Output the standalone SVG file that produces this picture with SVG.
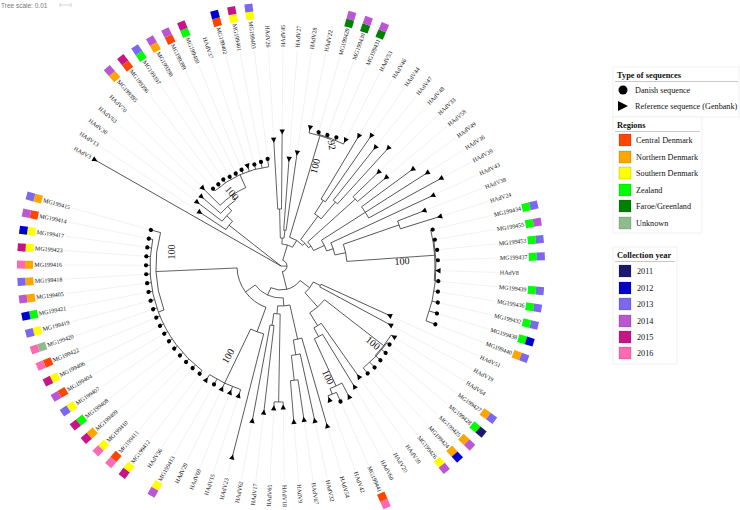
<svg xmlns="http://www.w3.org/2000/svg" width="740" height="510" viewBox="0 0 740 510">
<style>
.br{fill:none;stroke:#333;stroke-width:0.75}
.gd{fill:none;stroke:#e6e6e6;stroke-width:0.5}
.lb{font-family:"Liberation Serif",serif;font-size:6px;fill:#111;dominant-baseline:central}
.f{text-anchor:end}
.bs{font-family:"Liberation Serif",serif;font-size:10px;fill:#111;text-anchor:middle;dominant-baseline:central}
.lg{font-family:"Liberation Serif",serif;font-size:8.2px;fill:#111;dominant-baseline:central}
.lh{font-family:"Liberation Serif",serif;font-size:8.4px;font-weight:bold;fill:#111;dominant-baseline:central}
.rC{fill:#ff4500}.rN{fill:#ffa500}.rS{fill:#ffff00}.rZ{fill:#00ff00}.rF{fill:#008000}.rU{fill:#8fbc8f}
.y1{fill:#191970}.y2{fill:#0000cd}.y3{fill:#7b68ee}.y4{fill:#ba55d3}.y5{fill:#c71585}.y6{fill:#ff69b4}
.lgbox{fill:#fff;stroke:#eeeeee;stroke-width:0.8}
.sq{stroke:#000;stroke-opacity:0.25;stroke-width:0.6}
</style>
<defs>
<circle id="d" r="2.1" fill="#000"/>
<polygon id="t" points="-2.6,0 2.6,-2.7 2.6,2.7" fill="#000"/>
<rect id="b" x="0" y="-4" width="8" height="8"/>
</defs>
<rect width="740" height="510" fill="#fff"/>
<text x="1" y="5" style="font-family:'Liberation Sans',sans-serif;font-size:6.5px;fill:#777;dominant-baseline:central">Tree scale: 0.01</text>
<path d="M60 5H71M60 3V7M71 3V7" stroke="#bbb" stroke-width="0.6" fill="none"/>

<g id="connectors" class="br" transform="translate(281 266)">
<path d="M0 0H214" transform="rotate(-150.3)"/>
<path d="M0 0H66" transform="rotate(-141.87)"/>
<path d="M0 0H6" transform="rotate(1.5)"/>
<circle r="66" stroke-dasharray="10.67 2000" transform="rotate(-146.5)"/>
<path d="M66 0H97" transform="rotate(-146.5)"/>
<path d="M66 0H74" transform="rotate(-137.24)"/>
<circle r="74" stroke-dasharray="14.10 2000" transform="rotate(-142.7)"/>
<path d="M74 0H105" transform="rotate(-142.7)"/>
<path d="M74 0H80" transform="rotate(-131.78)"/>
<circle r="80" stroke-dasharray="19.90 2000" transform="rotate(-138.9)"/>
<path d="M80 0H105" transform="rotate(-138.9)"/>
<path d="M80 0H86" transform="rotate(-124.65)"/>
<circle r="86" stroke-dasharray="31.37 2000" transform="rotate(-135.1)"/>
<path d="M86 0H110" transform="rotate(-135.1)"/>
<path d="M86 0H100" transform="rotate(-114.2)"/>
<circle r="100" stroke-dasharray="59.69 2000" transform="rotate(-131.3)"/>
<path d="M100 0H103" transform="rotate(-131.3)"/>
<path d="M100 0H103" transform="rotate(-127.5)"/>
<path d="M100 0H104" transform="rotate(-123.7)"/>
<path d="M100 0H103" transform="rotate(-119.9)"/>
<path d="M100 0H103" transform="rotate(-116.1)"/>
<path d="M100 0H104" transform="rotate(-112.3)"/>
<path d="M100 0H105" transform="rotate(-108.5)"/>
<path d="M100 0H105" transform="rotate(-104.7)"/>
<path d="M100 0H106" transform="rotate(-100.9)"/>
<path d="M100 0H108" transform="rotate(-97.1)"/>
<circle r="6" stroke-dasharray="15.61 2000" transform="rotate(-73)"/>
<path d="M6 0H22" transform="rotate(-73)"/>
<path d="M6 0H24" transform="rotate(76.05)"/>
<circle r="22" stroke-dasharray="11.19 2000" transform="rotate(-87.6)"/>
<path d="M22 0H28" transform="rotate(-87.6)"/>
<path d="M22 0H30" transform="rotate(-58.45)"/>
<circle r="28" stroke-dasharray="3.71 2000" transform="rotate(-91.4)"/>
<path d="M28 0H57" transform="rotate(-91.4)"/>
<path d="M28 0H36" transform="rotate(-83.8)"/>
<circle r="57" stroke-dasharray="3.78 2000" transform="rotate(-93.3)"/>
<path d="M57 0H126" transform="rotate(-93.3)"/>
<path d="M57 0H134" transform="rotate(-89.5)"/>
<circle r="36" stroke-dasharray="2.39 2000" transform="rotate(-85.7)"/>
<path d="M36 0H107" transform="rotate(-85.7)"/>
<path d="M36 0H114" transform="rotate(-81.9)"/>
<circle r="30" stroke-dasharray="15.60 2000" transform="rotate(-73.35)"/>
<path d="M30 0H136" transform="rotate(-73.35)"/>
<path d="M30 0H33" transform="rotate(-43.55)"/>
<circle r="136" stroke-dasharray="22.55 2000" transform="rotate(-78.1)"/>
<path d="M136 0H141" transform="rotate(-78.1)"/>
<path d="M136 0H137" transform="rotate(-68.6)"/>
<circle r="137" stroke-dasharray="27.26 2000" transform="rotate(-74.3)"/>
<path d="M137 0H139" transform="rotate(-74.3)"/>
<path d="M137 0H139" transform="rotate(-70.5)"/>
<path d="M137 0H140" transform="rotate(-66.7)"/>
<path d="M137 0H141" transform="rotate(-62.9)"/>
<circle r="33" stroke-dasharray="11.35 2000" transform="rotate(-53.4)"/>
<path d="M33 0H62" transform="rotate(-53.4)"/>
<path d="M33 0H36" transform="rotate(-33.7)"/>
<circle r="62" stroke-dasharray="8.22 2000" transform="rotate(-57.2)"/>
<path d="M62 0H78" transform="rotate(-57.2)"/>
<path d="M62 0H84" transform="rotate(-49.6)"/>
<circle r="78" stroke-dasharray="5.17 2000" transform="rotate(-59.1)"/>
<path d="M78 0H151" transform="rotate(-59.1)"/>
<path d="M78 0H158" transform="rotate(-55.3)"/>
<circle r="84" stroke-dasharray="5.57 2000" transform="rotate(-51.5)"/>
<path d="M84 0H151" transform="rotate(-51.5)"/>
<path d="M84 0H159" transform="rotate(-47.7)"/>
<circle r="36" stroke-dasharray="10.43 2000" transform="rotate(-42)"/>
<path d="M36 0H100" transform="rotate(-42)"/>
<path d="M36 0H48" transform="rotate(-25.4)"/>
<circle r="100" stroke-dasharray="6.63 2000" transform="rotate(-43.9)"/>
<path d="M100 0H135" transform="rotate(-43.9)"/>
<path d="M100 0H137" transform="rotate(-40.1)"/>
<circle r="48" stroke-dasharray="11.94 2000" transform="rotate(-32.5)"/>
<path d="M48 0H100" transform="rotate(-32.5)"/>
<path d="M48 0H55" transform="rotate(-18.25)"/>
<circle r="100" stroke-dasharray="13.26 2000" transform="rotate(-36.3)"/>
<path d="M100 0H163" transform="rotate(-36.3)"/>
<path d="M100 0H173" transform="rotate(-32.5)"/>
<path d="M100 0H182" transform="rotate(-28.7)"/>
<circle r="55" stroke-dasharray="12.77 2000" transform="rotate(-24.9)"/>
<path d="M55 0H167" transform="rotate(-24.9)"/>
<path d="M55 0H66" transform="rotate(-11.6)"/>
<circle r="66" stroke-dasharray="17.51 2000" transform="rotate(-19.2)"/>
<path d="M66 0H125" transform="rotate(-19.2)"/>
<path d="M66 0H154" transform="rotate(-4)"/>
<circle r="125" stroke-dasharray="8.29 2000" transform="rotate(-21.1)"/>
<path d="M125 0H153" transform="rotate(-21.1)"/>
<path d="M125 0H166" transform="rotate(-17.3)"/>
<circle r="154" stroke-dasharray="51.07 2000" transform="rotate(-13.5)"/>
<path d="M154 0H156" transform="rotate(-13.5)"/>
<path d="M154 0H155" transform="rotate(5.5)"/>
<circle r="155" stroke-dasharray="82.24 2000" transform="rotate(-9.7)"/>
<path d="M155 0H156" transform="rotate(-9.7)"/>
<path d="M155 0H157" transform="rotate(-5.9)"/>
<path d="M155 0H157" transform="rotate(-2.1)"/>
<path d="M155 0H157" transform="rotate(1.7)"/>
<path d="M155 0H158" transform="rotate(5.5)"/>
<path d="M155 0H159" transform="rotate(9.3)"/>
<path d="M155 0H161" transform="rotate(13.1)"/>
<path d="M155 0H163" transform="rotate(16.9)"/>
<path d="M155 0H165" transform="rotate(20.7)"/>
<circle r="24" stroke-dasharray="32.50 2000" transform="rotate(37.25)"/>
<path d="M24 0H36" transform="rotate(37.25)"/>
<path d="M24 0H32" transform="rotate(114.85)"/>
<circle r="36" stroke-dasharray="13.63 2000" transform="rotate(26.4)"/>
<path d="M36 0H44" transform="rotate(26.4)"/>
<path d="M36 0H55" transform="rotate(48.1)"/>
<circle r="44" stroke-dasharray="2.92 2000" transform="rotate(24.5)"/>
<path d="M44 0H119" transform="rotate(24.5)"/>
<path d="M44 0H124" transform="rotate(28.3)"/>
<circle r="55" stroke-dasharray="19.82 2000" transform="rotate(37.8)"/>
<path d="M55 0H130" transform="rotate(37.8)"/>
<path d="M55 0H70" transform="rotate(58.45)"/>
<circle r="130" stroke-dasharray="25.87 2000" transform="rotate(32.1)"/>
<path d="M130 0H133" transform="rotate(32.1)"/>
<path d="M130 0H131" transform="rotate(43.5)"/>
<circle r="131" stroke-dasharray="34.75 2000" transform="rotate(35.9)"/>
<path d="M131 0H134" transform="rotate(35.9)"/>
<path d="M131 0H136" transform="rotate(39.7)"/>
<path d="M131 0H137" transform="rotate(43.5)"/>
<path d="M131 0H138" transform="rotate(47.3)"/>
<path d="M131 0H138" transform="rotate(51.1)"/>
<circle r="70" stroke-dasharray="8.67 2000" transform="rotate(54.9)"/>
<path d="M70 0H135" transform="rotate(54.9)"/>
<path d="M70 0H80" transform="rotate(62)"/>
<circle r="80" stroke-dasharray="9.29 2000" transform="rotate(58.7)"/>
<path d="M80 0H141" transform="rotate(58.7)"/>
<path d="M80 0H132" transform="rotate(65.35)"/>
<circle r="132" stroke-dasharray="13.13 2000" transform="rotate(62.5)"/>
<path d="M132 0H147" transform="rotate(62.5)"/>
<path d="M132 0H138" transform="rotate(68.2)"/>
<circle r="138" stroke-dasharray="9.15 2000" transform="rotate(66.3)"/>
<path d="M138 0H148" transform="rotate(66.3)"/>
<path d="M138 0H142" transform="rotate(70.1)"/>
<circle r="32" stroke-dasharray="32.23 2000" transform="rotate(86)"/>
<path d="M32 0H40" transform="rotate(86)"/>
<path d="M32 0H44" transform="rotate(143.7)"/>
<circle r="40" stroke-dasharray="12.29 2000" transform="rotate(77.2)"/>
<path d="M40 0H75" transform="rotate(77.2)"/>
<path d="M40 0H48" transform="rotate(94.8)"/>
<circle r="75" stroke-dasharray="8.70 2000" transform="rotate(73.9)"/>
<path d="M75 0H166" transform="rotate(73.9)"/>
<path d="M75 0H90" transform="rotate(80.55)"/>
<circle r="90" stroke-dasharray="8.95 2000" transform="rotate(77.7)"/>
<path d="M90 0H158" transform="rotate(77.7)"/>
<path d="M90 0H115" transform="rotate(83.4)"/>
<circle r="115" stroke-dasharray="7.63 2000" transform="rotate(81.5)"/>
<path d="M115 0H155" transform="rotate(81.5)"/>
<path d="M115 0H156" transform="rotate(85.3)"/>
<circle r="48" stroke-dasharray="6.37 2000" transform="rotate(91)"/>
<path d="M48 0H136" transform="rotate(91)"/>
<path d="M48 0H60" transform="rotate(98.6)"/>
<circle r="136" stroke-dasharray="9.02 2000" transform="rotate(89.1)"/>
<path d="M136 0H141" transform="rotate(89.1)"/>
<path d="M136 0H142" transform="rotate(92.9)"/>
<circle r="60" stroke-dasharray="3.98 2000" transform="rotate(96.7)"/>
<path d="M60 0H147" transform="rotate(96.7)"/>
<path d="M60 0H157" transform="rotate(100.5)"/>
<circle r="44" stroke-dasharray="51.80 2000" transform="rotate(110)"/>
<path d="M44 0H70" transform="rotate(110)"/>
<path d="M44 0H125" transform="rotate(177.45)"/>
<circle r="70" stroke-dasharray="13.93 2000" transform="rotate(104.3)"/>
<path d="M70 0H197" transform="rotate(104.3)"/>
<path d="M70 0H130" transform="rotate(115.7)"/>
<circle r="130" stroke-dasharray="34.49 2000" transform="rotate(108.1)"/>
<path d="M130 0H136" transform="rotate(108.1)"/>
<path d="M130 0H136" transform="rotate(111.9)"/>
<path d="M130 0H136" transform="rotate(115.7)"/>
<path d="M130 0H136" transform="rotate(119.5)"/>
<path d="M130 0H136" transform="rotate(123.3)"/>
<circle r="125" stroke-dasharray="78.76 2000" transform="rotate(159.4)"/>
<path d="M125 0H131" transform="rotate(159.4)"/>
<path d="M125 0H135" transform="rotate(195.5)"/>
<circle r="131" stroke-dasharray="147.70 2000" transform="rotate(127.1)"/>
<path d="M131 0H135" transform="rotate(127.1)"/><path d="M131 0H135" transform="rotate(130.9)"/><path d="M131 0H135" transform="rotate(134.7)"/><path d="M131 0H135" transform="rotate(138.5)"/><path d="M131 0H135" transform="rotate(142.3)"/><path d="M131 0H135" transform="rotate(146.1)"/><path d="M131 0H135" transform="rotate(149.9)"/><path d="M131 0H135" transform="rotate(153.7)"/><path d="M131 0H135" transform="rotate(157.5)"/><path d="M131 0H135" transform="rotate(161.3)"/><path d="M131 0H135" transform="rotate(165.1)"/><path d="M131 0H135" transform="rotate(168.9)"/><path d="M131 0H135" transform="rotate(172.7)"/><path d="M131 0H135" transform="rotate(176.5)"/><path d="M131 0H135" transform="rotate(180.3)"/><path d="M131 0H135" transform="rotate(184.1)"/><path d="M131 0H135" transform="rotate(187.9)"/><path d="M131 0H135" transform="rotate(191.7)"/>
</g>

<g id="bootstrap">
<text class="bs" transform="translate(232 193) rotate(50)">100</text>
<text class="bs" transform="translate(332 145) rotate(80)">92</text>
<text class="bs" transform="translate(315 166) rotate(-75)">100</text>
<text class="bs" transform="translate(402 261) rotate(-4)">100</text>
<text class="bs" transform="translate(373 343) rotate(40)">100</text>
<text class="bs" transform="translate(328 377) rotate(65)">100</text>
<text class="bs" transform="translate(228 356) rotate(-60)">100</text>
<text class="bs" transform="translate(171 252) rotate(-90)">100</text>
</g>

<g id="leaves" transform="translate(281 266)">
<g id="HAdV3" transform="rotate(-150.3)"><use href="#t" x="214"/><text class="lb f" x="-219" transform="rotate(180)">HAdV3</text></g>
<g id="HAdV13" transform="rotate(-146.5)"><path class="gd" d="M100 0H217"/><use href="#t" x="97"/><text class="lb f" x="-219" transform="rotate(180)">HAdV13</text></g>
<g id="HAdV30" transform="rotate(-142.7)"><path class="gd" d="M108 0H217"/><use href="#t" x="105"/><text class="lb f" x="-219" transform="rotate(180)">HAdV30</text></g>
<g id="HAdV63" transform="rotate(-138.9)"><path class="gd" d="M108 0H217"/><use href="#t" x="105"/><text class="lb f" x="-219" transform="rotate(180)">HAdV63</text></g>
<g id="HAdV70" transform="rotate(-135.1)"><path class="gd" d="M113 0H217"/><use href="#t" x="110"/><text class="lb f" x="-219" transform="rotate(180)">HAdV70</text></g>
<g id="MG199395" transform="rotate(-131.3)"><path class="gd" d="M106 0H217"/><use href="#d" x="103"/><text class="lb f" x="-219" transform="rotate(180)">MG199395</text><use href="#b" x="248" class="rN"/><use href="#b" x="256" class="y4"/></g>
<g id="MG199396" transform="rotate(-127.5)"><path class="gd" d="M106 0H217"/><use href="#d" x="103"/><text class="lb f" x="-219" transform="rotate(180)">MG199396</text><use href="#b" x="248" class="rC"/><use href="#b" x="256" class="y5"/></g>
<g id="MG199397" transform="rotate(-123.7)"><path class="gd" d="M107 0H217"/><use href="#d" x="104"/><text class="lb f" x="-219" transform="rotate(180)">MG199397</text><use href="#b" x="248" class="rZ"/><use href="#b" x="256" class="y3"/></g>
<g id="MG199398" transform="rotate(-119.9)"><path class="gd" d="M106 0H217"/><use href="#d" x="103"/><text class="lb f" x="-219" transform="rotate(180)">MG199398</text><use href="#b" x="248" class="rN"/><use href="#b" x="256" class="y4"/></g>
<g id="MG199399" transform="rotate(-116.1)"><path class="gd" d="M106 0H217"/><use href="#d" x="103"/><text class="lb f" x="-219" transform="rotate(180)">MG199399</text><use href="#b" x="248" class="rC"/><use href="#b" x="256" class="y4"/></g>
<g id="MG199400" transform="rotate(-112.3)"><path class="gd" d="M107 0H217"/><use href="#d" x="104"/><text class="lb f" x="-219" transform="rotate(180)">MG199400</text><use href="#b" x="248" class="rZ"/><use href="#b" x="256" class="y5"/></g>
<g id="HAdV37" transform="rotate(-108.5)"><path class="gd" d="M108 0H217"/><use href="#t" x="105"/><text class="lb f" x="-219" transform="rotate(180)">HAdV37</text></g>
<g id="MG199402" transform="rotate(-104.7)"><path class="gd" d="M108 0H217"/><use href="#d" x="105"/><text class="lb f" x="-219" transform="rotate(180)">MG199402</text><use href="#b" x="248" class="rC"/><use href="#b" x="256" class="y2"/></g>
<g id="MG199401" transform="rotate(-100.9)"><path class="gd" d="M109 0H217"/><use href="#d" x="106"/><text class="lb f" x="-219" transform="rotate(180)">MG199401</text><use href="#b" x="248" class="rS"/><use href="#b" x="256" class="y5"/></g>
<g id="MG199403" transform="rotate(-97.1)"><path class="gd" d="M111 0H217"/><use href="#d" x="108"/><text class="lb f" x="-219" transform="rotate(180)">MG199403</text><use href="#b" x="248" class="rS"/><use href="#b" x="256" class="y3"/></g>
<g id="HAdV26" transform="rotate(-93.3)"><path class="gd" d="M129 0H217"/><use href="#t" x="126"/><text class="lb f" x="-219" transform="rotate(180)">HAdV26</text></g>
<g id="HAdV45" transform="rotate(-89.5)"><path class="gd" d="M137 0H217"/><use href="#t" x="134"/><text class="lb" x="219">HAdV45</text></g>
<g id="HAdV27" transform="rotate(-85.7)"><path class="gd" d="M110 0H217"/><use href="#t" x="107"/><text class="lb" x="219">HAdV27</text></g>
<g id="HAdV28" transform="rotate(-81.9)"><path class="gd" d="M117 0H217"/><use href="#t" x="114"/><text class="lb" x="219">HAdV28</text></g>
<g id="HAdV22" transform="rotate(-78.1)"><path class="gd" d="M144 0H217"/><use href="#t" x="141"/><text class="lb" x="219">HAdV22</text></g>
<g id="MG199429" transform="rotate(-74.3)"><path class="gd" d="M142 0H217"/><use href="#d" x="139"/><text class="lb" x="219">MG199429</text><use href="#b" x="248" class="rF"/><use href="#b" x="256" class="y4"/></g>
<g id="MG199430" transform="rotate(-70.5)"><path class="gd" d="M142 0H217"/><use href="#d" x="139"/><text class="lb" x="219">MG199430</text><use href="#b" x="248" class="rF"/><use href="#b" x="256" class="y4"/></g>
<g id="MG199431" transform="rotate(-66.7)"><path class="gd" d="M143 0H217"/><use href="#d" x="140"/><text class="lb" x="219">MG199431</text><use href="#b" x="248" class="rF"/><use href="#b" x="256" class="y4"/></g>
<g id="HAdV53" transform="rotate(-62.9)"><path class="gd" d="M144 0H217"/><use href="#t" x="141"/><text class="lb" x="219">HAdV53</text></g>
<g id="HAdV46" transform="rotate(-59.1)"><path class="gd" d="M154 0H217"/><use href="#t" x="151"/><text class="lb" x="219">HAdV46</text></g>
<g id="HAdV44" transform="rotate(-55.3)"><path class="gd" d="M161 0H217"/><use href="#t" x="158"/><text class="lb" x="219">HAdV44</text></g>
<g id="HAdV47" transform="rotate(-51.5)"><path class="gd" d="M154 0H217"/><use href="#t" x="151"/><text class="lb" x="219">HAdV47</text></g>
<g id="HAdV48" transform="rotate(-47.7)"><path class="gd" d="M162 0H217"/><use href="#t" x="159"/><text class="lb" x="219">HAdV48</text></g>
<g id="HAdV33" transform="rotate(-43.9)"><path class="gd" d="M138 0H217"/><use href="#t" x="135"/><text class="lb" x="219">HAdV33</text></g>
<g id="HAdV58" transform="rotate(-40.1)"><path class="gd" d="M140 0H217"/><use href="#t" x="137"/><text class="lb" x="219">HAdV58</text></g>
<g id="HAdV49" transform="rotate(-36.3)"><path class="gd" d="M166 0H217"/><use href="#t" x="163"/><text class="lb" x="219">HAdV49</text></g>
<g id="HAdV36" transform="rotate(-32.5)"><path class="gd" d="M176 0H217"/><use href="#t" x="173"/><text class="lb" x="219">HAdV36</text></g>
<g id="HAdV39" transform="rotate(-28.7)"><path class="gd" d="M185 0H217"/><use href="#t" x="182"/><text class="lb" x="219">HAdV39</text></g>
<g id="HAdV43" transform="rotate(-24.9)"><path class="gd" d="M170 0H217"/><use href="#t" x="167"/><text class="lb" x="219">HAdV43</text></g>
<g id="HAdV38" transform="rotate(-21.1)"><path class="gd" d="M156 0H217"/><use href="#t" x="153"/><text class="lb" x="219">HAdV38</text></g>
<g id="HAdV24" transform="rotate(-17.3)"><path class="gd" d="M169 0H217"/><use href="#t" x="166"/><text class="lb" x="219">HAdV24</text></g>
<g id="MG199434" transform="rotate(-13.5)"><path class="gd" d="M159 0H217"/><use href="#d" x="156"/><text class="lb" x="219">MG199434</text><use href="#b" x="248" class="rZ"/><use href="#b" x="256" class="y3"/></g>
<g id="MG199455" transform="rotate(-9.7)"><path class="gd" d="M159 0H217"/><use href="#d" x="156"/><text class="lb" x="219">MG199455</text><use href="#b" x="248" class="rZ"/><use href="#b" x="256" class="y4"/></g>
<g id="MG199453" transform="rotate(-5.9)"><path class="gd" d="M160 0H217"/><use href="#d" x="157"/><text class="lb" x="219">MG199453</text><use href="#b" x="248" class="rZ"/><use href="#b" x="256" class="y3"/></g>
<g id="MG199437" transform="rotate(-2.1)"><path class="gd" d="M160 0H217"/><use href="#d" x="157"/><text class="lb" x="219">MG199437</text><use href="#b" x="248" class="rZ"/><use href="#b" x="256" class="y3"/></g>
<g id="HAdV8" transform="rotate(1.7)"><path class="gd" d="M160 0H217"/><use href="#t" x="157"/><text class="lb" x="219">HAdV8</text></g>
<g id="MG199439" transform="rotate(5.5)"><path class="gd" d="M161 0H217"/><use href="#d" x="158"/><text class="lb" x="219">MG199439</text><use href="#b" x="248" class="rZ"/><use href="#b" x="256" class="y3"/></g>
<g id="MG199436" transform="rotate(9.3)"><path class="gd" d="M162 0H217"/><use href="#d" x="159"/><text class="lb" x="219">MG199436</text><use href="#b" x="248" class="rZ"/><use href="#b" x="256" class="y3"/></g>
<g id="MG199432" transform="rotate(13.1)"><path class="gd" d="M164 0H217"/><use href="#d" x="161"/><text class="lb" x="219">MG199432</text><use href="#b" x="248" class="rZ"/><use href="#b" x="256" class="y3"/></g>
<g id="MG199438" transform="rotate(16.9)"><path class="gd" d="M166 0H217"/><use href="#d" x="163"/><text class="lb" x="219">MG199438</text><use href="#b" x="248" class="rZ"/><use href="#b" x="256" class="y2"/></g>
<g id="MG199440" transform="rotate(20.7)"><path class="gd" d="M168 0H217"/><use href="#d" x="165"/><text class="lb" x="219">MG199440</text><use href="#b" x="248" class="rN"/><use href="#b" x="256" class="y3"/></g>
<g id="HAdV51" transform="rotate(24.5)"><path class="gd" d="M122 0H217"/><use href="#t" x="119"/><text class="lb" x="219">HAdV51</text></g>
<g id="HAdV19" transform="rotate(28.3)"><path class="gd" d="M127 0H217"/><use href="#t" x="124"/><text class="lb" x="219">HAdV19</text></g>
<g id="HAdV64" transform="rotate(32.1)"><path class="gd" d="M136 0H217"/><use href="#t" x="133"/><text class="lb" x="219">HAdV64</text></g>
<g id="MG199427" transform="rotate(35.9)"><path class="gd" d="M137 0H217"/><use href="#d" x="134"/><text class="lb" x="219">MG199427</text><use href="#b" x="248" class="rN"/><use href="#b" x="256" class="y3"/></g>
<g id="MG199428" transform="rotate(39.7)"><path class="gd" d="M139 0H217"/><use href="#d" x="136"/><text class="lb" x="219">MG199428</text><use href="#b" x="248" class="rZ"/><use href="#b" x="256" class="y1"/></g>
<g id="MG199425" transform="rotate(43.5)"><path class="gd" d="M140 0H217"/><use href="#d" x="137"/><text class="lb" x="219">MG199425</text><use href="#b" x="248" class="rN"/><use href="#b" x="256" class="y4"/></g>
<g id="MG199424" transform="rotate(47.3)"><path class="gd" d="M141 0H217"/><use href="#d" x="138"/><text class="lb" x="219">MG199424</text><use href="#b" x="248" class="rN"/><use href="#b" x="256" class="y2"/></g>
<g id="MG199426" transform="rotate(51.1)"><path class="gd" d="M141 0H217"/><use href="#d" x="138"/><text class="lb" x="219">MG199426</text><use href="#b" x="248" class="rS"/><use href="#b" x="256" class="y4"/></g>
<g id="HAdV59" transform="rotate(54.9)"><path class="gd" d="M138 0H217"/><use href="#t" x="135"/><text class="lb" x="219">HAdV59</text></g>
<g id="HAdV20" transform="rotate(58.7)"><path class="gd" d="M144 0H217"/><use href="#t" x="141"/><text class="lb" x="219">HAdV20</text></g>
<g id="HAdV60" transform="rotate(62.5)"><path class="gd" d="M150 0H217"/><use href="#t" x="147"/><text class="lb" x="219">HAdV60</text></g>
<g id="MG199441" transform="rotate(66.3)"><path class="gd" d="M151 0H217"/><use href="#d" x="148"/><text class="lb" x="219">MG199441</text><use href="#b" x="248" class="rC"/><use href="#b" x="256" class="y6"/></g>
<g id="HAdV42" transform="rotate(70.1)"><path class="gd" d="M145 0H217"/><use href="#t" x="142"/><text class="lb" x="219">HAdV42</text></g>
<g id="HAdV54" transform="rotate(73.9)"><path class="gd" d="M169 0H217"/><use href="#t" x="166"/><text class="lb" x="219">HAdV54</text></g>
<g id="HAdV32" transform="rotate(77.7)"><path class="gd" d="M161 0H217"/><use href="#t" x="158"/><text class="lb" x="219">HAdV32</text></g>
<g id="HAdV67" transform="rotate(81.5)"><path class="gd" d="M158 0H217"/><use href="#t" x="155"/><text class="lb" x="219">HAdV67</text></g>
<g id="HAdV9" transform="rotate(85.3)"><path class="gd" d="M159 0H217"/><use href="#t" x="156"/><text class="lb" x="219">HAdV9</text></g>
<g id="HAdV18" transform="rotate(89.1)"><path class="gd" d="M144 0H217"/><use href="#t" x="141"/><text class="lb" x="219">HAdV18</text></g>
<g id="HAdV65" transform="rotate(92.9)"><path class="gd" d="M145 0H217"/><use href="#t" x="142"/><text class="lb f" x="-219" transform="rotate(180)">HAdV65</text></g>
<g id="HAdV17" transform="rotate(96.7)"><path class="gd" d="M150 0H217"/><use href="#t" x="147"/><text class="lb f" x="-219" transform="rotate(180)">HAdV17</text></g>
<g id="HAdV62" transform="rotate(100.5)"><path class="gd" d="M160 0H217"/><use href="#t" x="157"/><text class="lb f" x="-219" transform="rotate(180)">HAdV62</text></g>
<g id="HAdV23" transform="rotate(104.3)"><path class="gd" d="M200 0H217"/><use href="#t" x="197"/><text class="lb f" x="-219" transform="rotate(180)">HAdV23</text></g>
<g id="HAdV15" transform="rotate(108.1)"><path class="gd" d="M139 0H217"/><use href="#t" x="136"/><text class="lb f" x="-219" transform="rotate(180)">HAdV15</text></g>
<g id="HAdV69" transform="rotate(111.9)"><path class="gd" d="M139 0H217"/><use href="#t" x="136"/><text class="lb f" x="-219" transform="rotate(180)">HAdV69</text></g>
<g id="HAdV29" transform="rotate(115.7)"><path class="gd" d="M139 0H217"/><use href="#t" x="136"/><text class="lb f" x="-219" transform="rotate(180)">HAdV29</text></g>
<g id="MG199413" transform="rotate(119.5)"><path class="gd" d="M139 0H217"/><use href="#d" x="136"/><text class="lb f" x="-219" transform="rotate(180)">MG199413</text><use href="#b" x="248" class="rS"/><use href="#b" x="256" class="y4"/></g>
<g id="HAdV56" transform="rotate(123.3)"><path class="gd" d="M139 0H217"/><use href="#t" x="136"/><text class="lb f" x="-219" transform="rotate(180)">HAdV56</text></g>
<g id="MG199412" transform="rotate(127.1)"><path class="gd" d="M138 0H217"/><use href="#d" x="135"/><text class="lb f" x="-219" transform="rotate(180)">MG199412</text><use href="#b" x="248" class="rS"/><use href="#b" x="256" class="y5"/></g>
<g id="MG199411" transform="rotate(130.9)"><path class="gd" d="M138 0H217"/><use href="#d" x="135"/><text class="lb f" x="-219" transform="rotate(180)">MG199411</text><use href="#b" x="248" class="rC"/><use href="#b" x="256" class="y6"/></g>
<g id="MG199410" transform="rotate(134.7)"><path class="gd" d="M138 0H217"/><use href="#d" x="135"/><text class="lb f" x="-219" transform="rotate(180)">MG199410</text><use href="#b" x="248" class="rS"/><use href="#b" x="256" class="y6"/></g>
<g id="MG199409" transform="rotate(138.5)"><path class="gd" d="M138 0H217"/><use href="#d" x="135"/><text class="lb f" x="-219" transform="rotate(180)">MG199409</text><use href="#b" x="248" class="rN"/><use href="#b" x="256" class="y5"/></g>
<g id="MG199408" transform="rotate(142.3)"><path class="gd" d="M138 0H217"/><use href="#d" x="135"/><text class="lb f" x="-219" transform="rotate(180)">MG199408</text><use href="#b" x="248" class="rZ"/><use href="#b" x="256" class="y5"/></g>
<g id="MG199407" transform="rotate(146.1)"><path class="gd" d="M138 0H217"/><use href="#d" x="135"/><text class="lb f" x="-219" transform="rotate(180)">MG199407</text><use href="#b" x="248" class="rS"/><use href="#b" x="256" class="y3"/></g>
<g id="MG199404" transform="rotate(149.9)"><path class="gd" d="M138 0H217"/><use href="#d" x="135"/><text class="lb f" x="-219" transform="rotate(180)">MG199404</text><use href="#b" x="248" class="rC"/><use href="#b" x="256" class="y4"/></g>
<g id="MG199406" transform="rotate(153.7)"><path class="gd" d="M138 0H217"/><use href="#d" x="135"/><text class="lb f" x="-219" transform="rotate(180)">MG199406</text><use href="#b" x="248" class="rS"/><use href="#b" x="256" class="y5"/></g>
<g id="MG199422" transform="rotate(157.5)"><path class="gd" d="M138 0H217"/><use href="#d" x="135"/><text class="lb f" x="-219" transform="rotate(180)">MG199422</text><use href="#b" x="248" class="rC"/><use href="#b" x="256" class="y6"/></g>
<g id="MG199420" transform="rotate(161.3)"><path class="gd" d="M138 0H217"/><use href="#d" x="135"/><text class="lb f" x="-219" transform="rotate(180)">MG199420</text><use href="#b" x="248" class="rU"/><use href="#b" x="256" class="y6"/></g>
<g id="MG199419" transform="rotate(165.1)"><path class="gd" d="M138 0H217"/><use href="#d" x="135"/><text class="lb f" x="-219" transform="rotate(180)">MG199419</text><use href="#b" x="248" class="rS"/><use href="#b" x="256" class="y3"/></g>
<g id="MG199421" transform="rotate(168.9)"><path class="gd" d="M138 0H217"/><use href="#d" x="135"/><text class="lb f" x="-219" transform="rotate(180)">MG199421</text><use href="#b" x="248" class="rZ"/><use href="#b" x="256" class="y2"/></g>
<g id="MG199405" transform="rotate(172.7)"><path class="gd" d="M138 0H217"/><use href="#d" x="135"/><text class="lb f" x="-219" transform="rotate(180)">MG199405</text><use href="#b" x="248" class="rN"/><use href="#b" x="256" class="y4"/></g>
<g id="MG199418" transform="rotate(176.5)"><path class="gd" d="M138 0H217"/><use href="#d" x="135"/><text class="lb f" x="-219" transform="rotate(180)">MG199418</text><use href="#b" x="248" class="rN"/><use href="#b" x="256" class="y3"/></g>
<g id="MG199416" transform="rotate(180.3)"><path class="gd" d="M138 0H217"/><use href="#d" x="135"/><text class="lb f" x="-219" transform="rotate(180)">MG199416</text><use href="#b" x="248" class="rN"/><use href="#b" x="256" class="y6"/></g>
<g id="MG199423" transform="rotate(184.1)"><path class="gd" d="M138 0H217"/><use href="#d" x="135"/><text class="lb f" x="-219" transform="rotate(180)">MG199423</text><use href="#b" x="248" class="rS"/><use href="#b" x="256" class="y5"/></g>
<g id="MG199417" transform="rotate(187.9)"><path class="gd" d="M138 0H217"/><use href="#d" x="135"/><text class="lb f" x="-219" transform="rotate(180)">MG199417</text><use href="#b" x="248" class="rS"/><use href="#b" x="256" class="y2"/></g>
<g id="MG199414" transform="rotate(191.7)"><path class="gd" d="M138 0H217"/><use href="#d" x="135"/><text class="lb f" x="-219" transform="rotate(180)">MG199414</text><use href="#b" x="248" class="rC"/><use href="#b" x="256" class="y4"/></g>
<g id="MG199415" transform="rotate(195.5)"><path class="gd" d="M138 0H217"/><use href="#d" x="135"/><text class="lb f" x="-219" transform="rotate(180)">MG199415</text><use href="#b" x="248" class="rN"/><use href="#b" x="256" class="y3"/></g>
</g>

<g id="legend-type">
<rect class="lgbox" x="613" y="67" width="126" height="50"/>
<text class="lh" x="617" y="75">Type of sequences</text>
<path d="M615 81.5H738" stroke="#bbb" stroke-width="0.8"/>
<circle cx="623" cy="90" r="4.5" fill="#000"/>
<text class="lg" x="635" y="90">Danish sequence</text>
<polygon points="618,101 628,106 618,111" fill="#000"/>
<text class="lg" x="635" y="106">Reference sequence (Genbank)</text>
</g>
<g id="legend-regions">
<rect class="lgbox" x="613" y="117" width="89" height="116"/>
<text class="lh" x="617" y="125">Regions</text>
<path d="M615 131.5H700" stroke="#bbb" stroke-width="0.8"/>
<rect class="rC sq" x="619" y="134" width="12" height="12"/><text class="lg" x="636" y="140">Central Denmark</text>
<rect class="rN sq" x="619" y="151" width="12" height="12"/><text class="lg" x="636" y="157">Northern Denmark</text>
<rect class="rS sq" x="619" y="167" width="12" height="12"/><text class="lg" x="636" y="173">Southern Denmark</text>
<rect class="rZ sq" x="619" y="184" width="12" height="12"/><text class="lg" x="636" y="190">Zealand</text>
<rect class="rF sq" x="619" y="200" width="12" height="12"/><text class="lg" x="636" y="206">Faroe/Greenland</text>
<rect class="rU sq" x="619" y="217" width="12" height="12"/><text class="lg" x="636" y="223">Unknown</text>
</g>
<g id="legend-year">
<rect class="lgbox" x="613" y="247" width="64" height="117"/>
<text class="lh" x="617" y="255">Collection year</text>
<path d="M615 261.5H675" stroke="#bbb" stroke-width="0.8"/>
<rect class="y1 sq" x="619" y="265" width="12" height="12"/><text class="lg" x="637" y="271">2011</text>
<rect class="y2 sq" x="619" y="282" width="12" height="12"/><text class="lg" x="637" y="288">2012</text>
<rect class="y3 sq" x="619" y="298" width="12" height="12"/><text class="lg" x="637" y="304">2013</text>
<rect class="y4 sq" x="619" y="315" width="12" height="12"/><text class="lg" x="637" y="321">2014</text>
<rect class="y5 sq" x="619" y="331" width="12" height="12"/><text class="lg" x="637" y="337">2015</text>
<rect class="y6 sq" x="619" y="347" width="12" height="12"/><text class="lg" x="637" y="353">2016</text>
</g>
</svg>
